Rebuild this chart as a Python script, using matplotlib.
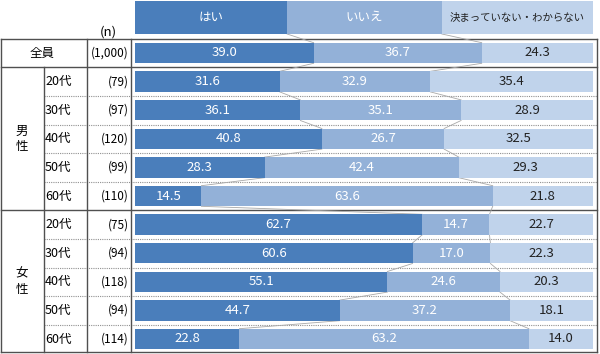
"""Survey answer shares by sex and age group (100% stacked bars in a table frame)."""
import matplotlib
matplotlib.use("Agg")
import matplotlib.pyplot as plt

plt.rcParams["font.family"] = ["Noto Sans CJK JP", "DejaVu Sans"]

HEADERS = ["はい", "いいえ", "決まっていない・わからない"]
GROUPS = ["全員", "男性", "女性"]
AGES = ["20代", "30代", "40代", "50代", "60代"]
N_LABELS = ["(1,000)", "(79)", "(97)", "(120)", "(99)", "(110)",
            "(75)", "(94)", "(118)", "(94)", "(114)"]
YES = [39.0, 31.6, 36.1, 40.8, 28.3, 14.5, 62.7, 60.6, 55.1, 44.7, 22.8]
NO = [36.7, 32.9, 35.1, 26.7, 42.4, 63.6, 14.7, 17.0, 24.6, 37.2, 63.2]
UNSURE = [24.3, 35.4, 28.9, 32.5, 29.3, 21.8, 22.7, 22.3, 20.3, 18.1, 14.0]

C_YES = "#4a7ebb"
C_NO = "#93b1d8"
C_UNS = "#c0d3eb"
C_LINE = "#505050"
C_SERIES = "#a8a8a8"

W, H = 600, 354
ROW0_PX, ROW_PX = 53, 28.6
YLIM = ((H - ROW0_PX) / ROW_PX, -ROW0_PX / ROW_PX)
BAR_L, BAR_R = 135, 593
HEAD_Y, HEAD_H = -1.24, 1.15
BAR_H = 0.72


def main():
    fig = plt.figure(figsize=(W / 100, H / 100), dpi=100, facecolor="white")
    tab = fig.add_axes([0, 0, 1, 1])
    tab.set_xlim(0, W)
    tab.set_ylim(*YLIM)
    tab.axis("off")
    ax = fig.add_axes([BAR_L / W, 0, (BAR_R - BAR_L) / W, 1])
    ax.set_xlim(0, 100)
    ax.set_ylim(*YLIM)
    ax.axis("off")
    ax.patch.set_alpha(0)

    # header bar
    head_w = [33.2, 33.8, 33.0]
    left = 0
    head_bounds = []
    for lab, w, c, tc in zip(HEADERS, head_w, [C_YES, C_NO, C_UNS],
                             ["white", "white", "#222222"]):
        ax.barh(HEAD_Y, w, left=left, height=HEAD_H, color=c, edgecolor="none")
        ax.text(left + w / 2, HEAD_Y, lab, ha="center", va="center",
                fontsize=7.5 if len(lab) > 5 else 9, color=tc)
        left += w
        head_bounds.append(left)

    rows = list(range(len(YES)))
    prev_bounds, prev_y, prev_h = head_bounds[:2], HEAD_Y, HEAD_H
    for i in rows:
        vals = [YES[i], NO[i], UNSURE[i]]
        left = 0
        bounds = []
        for v, c, tc in zip(vals, [C_YES, C_NO, C_UNS],
                            ["white", "white", "#222222"]):
            ax.barh(i, v, left=left, height=BAR_H, color=c, edgecolor="none")
            ax.text(left + v / 2, i, f"{v:.1f}", ha="center", va="center",
                    fontsize=9.5, color=tc)
            left += v
            bounds.append(left)
        # series lines joining segment edges of neighbouring bars
        for b0, b1 in zip(prev_bounds, bounds[:2]):
            ax.plot([b0, b1], [prev_y + prev_h / 2, i - BAR_H / 2],
                    color=C_SERIES, lw=0.6, zorder=0)
        prev_bounds, prev_y, prev_h = bounds[:2], i, BAR_H

    # table frame
    top, bottom = -0.5, YLIM[0] - 0.06
    x_left, x_grp, x_age, x_n, x_right = 1, 44, 87, 131, 597
    for y in [top, 0.5, 5.5, bottom]:
        tab.plot([x_left, x_right], [y, y], color=C_LINE, lw=1.0)
    for y in [1.5, 2.5, 3.5, 4.5, 6.5, 7.5, 8.5, 9.5]:
        tab.plot([x_grp, x_right], [y, y], color="#909090", lw=0.8,
                 linestyle=(0, (1, 1)))
    for x in [x_left, x_age, x_n, x_right]:
        tab.plot([x, x], [top, bottom], color=C_LINE, lw=1.0)
    tab.plot([x_grp, x_grp], [0.5, bottom], color=C_LINE, lw=1.0)

    tab.text(108, -0.75, "(n)", ha="center", va="center", fontsize=9.5)
    tab.text(x_age / 2 - 1, 0, GROUPS[0], ha="center", va="center", fontsize=9)
    tab.text(x_grp / 2, 3, "\n".join(GROUPS[1]), ha="center", va="center",
             fontsize=9, linespacing=1.2)
    tab.text(x_grp / 2, 8, "\n".join(GROUPS[2]), ha="center", va="center",
             fontsize=9, linespacing=1.2)
    for i in rows:
        tab.text(x_n - 2, i, N_LABELS[i], ha="right", va="center", fontsize=8.5)
        if i > 0:
            tab.text(x_grp + 1, i, AGES[(i - 1) % 5], ha="left", va="center",
                     fontsize=9)

    fig.savefig("out.png", dpi=100, facecolor="white")
    plt.close(fig)


if __name__ == "__main__":
    main()
